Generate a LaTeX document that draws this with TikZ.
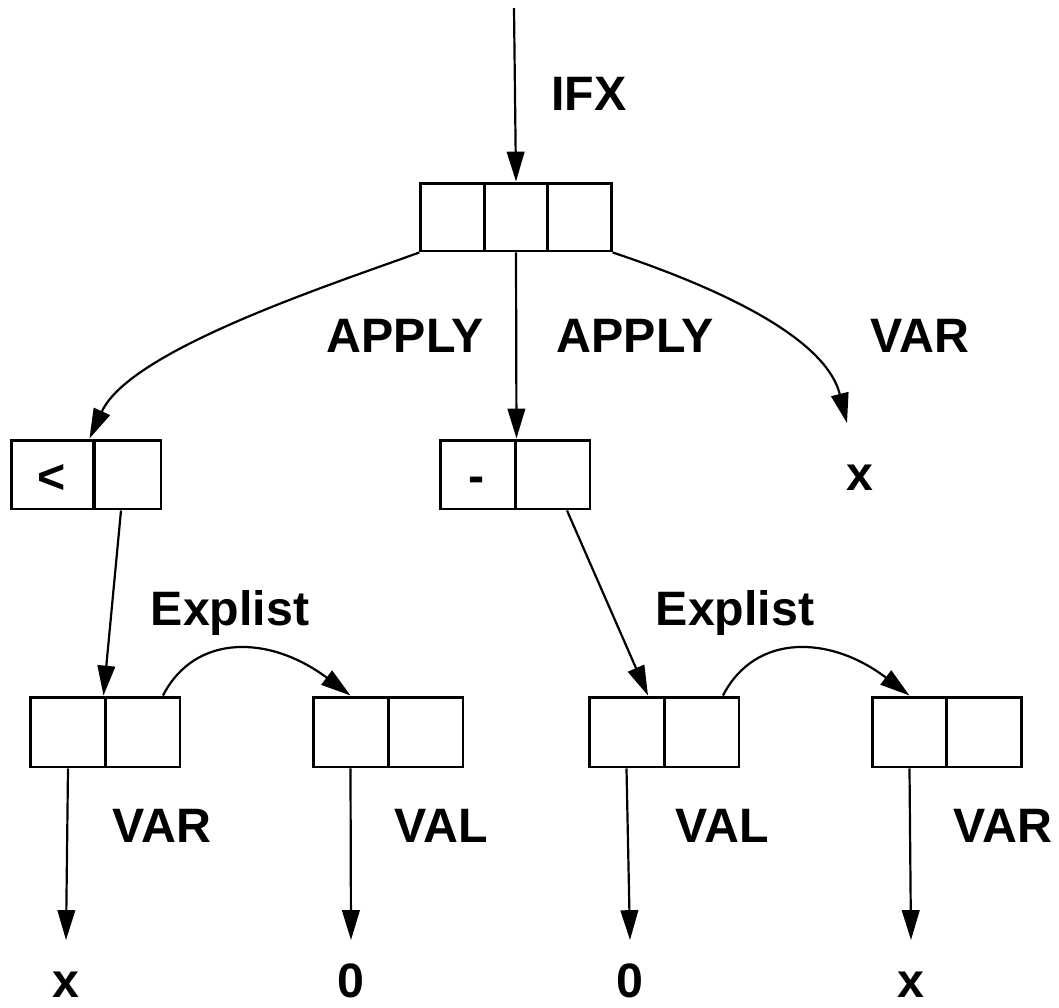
\documentclass[tikz,border=0pt]{standalone}
\usepackage{fontspec}
\setmainfont{Liberation Sans}
\usetikzlibrary{arrows.meta,calc}
\newcommand\dgfont{\fontsize{27.5}{30}\selectfont\bfseries}
\begin{document}
\begin{tikzpicture}[x=0.02cm,y=-0.02cm,
  cell/.style={draw,line width=1.7pt,rectangle,inner sep=0pt,
    minimum width=1.5cm,minimum height=1.4cm,font=\dgfont},
  lbl/.style={inner sep=0pt,anchor=base,font=\dgfont},
  arr/.style={line width=1.25pt,-{Triangle[length=17pt,width=10pt]}}]
\useasboundingbox (0,0) rectangle (1059,1008);

% IFX cell with three fields
\node[cell,minimum width=1.27cm,minimum height=1.36cm] (t1) at (452.5,217) {};
\node[cell,minimum width=1.27cm,minimum height=1.36cm] (t2) at (516,217) {};
\node[cell,minimum width=1.27cm,minimum height=1.36cm] (t3) at (579.5,217) {};

% APPLY cells
\node[cell,minimum width=1.66cm,minimum height=1.38cm] (l1) at (52.5,474.5) {};
\node[cell,minimum width=1.34cm,minimum height=1.38cm] (l2) at (127.5,474.5) {};
\node[cell,minimum height=1.38cm] (m1) at (477.5,474.5) {};
\node[cell,minimum height=1.38cm] (m2) at (552.5,474.5) {};
\node[lbl] (lt) at (52,493) {<};
\node[lbl] (mn) at (477,492) {-};

% Explist cells
\node[cell] (b11) at (68,732) {};
\node[cell] (b12) at (142.5,732) {};
\node[cell] (b21) at (350.5,732) {};
\node[cell] (b22) at (425.5,732) {};
\node[cell] (b31) at (626.5,732) {};
\node[cell] (b32) at (701.5,732) {};
\node[cell] (b41) at (909.5,732) {};
\node[cell] (b42) at (984,732) {};

% labels
\node[lbl] (lifx) at (589,110) {IFX};
\node[lbl] (lap1) at (405,352) {APPLY};
\node[lbl] (lap2) at (635,352) {APPLY};
\node[lbl] (lvar) at (920,352) {VAR};
\node[lbl] (xr) at (860,490) {x};
\node[lbl] (lex1) at (230,625) {Explist};
\node[lbl] (lex2) at (735,625) {Explist};
\node[lbl] (lv1) at (162,842) {VAR};
\node[lbl] (lv2) at (441,842) {VAL};
\node[lbl] (lv3) at (722,842) {VAL};
\node[lbl] (lv4) at (1003,842) {VAR};

% leaves
\node[lbl] (x1) at (66,997) {x};
\node[lbl] (z1) at (351,997) {0};
\node[lbl] (z2) at (630,997) {0};
\node[lbl] (x2) at (911,997) {x};

\coordinate (root) at (514,8);
\coordinate (xtip) at (847,423);

% connectors
\draw[arr] (root) -- (t2.north);
\draw[arr] (t1.south west) .. controls (330,285) and (130,350) .. ([xshift=-0.12cm]l1.north east);
\draw[arr] (t2.south) -- (m1.north east);
\draw[arr] (t3.south east) .. controls (710,285) and (825,335) .. (xtip);

\draw[arr] ([xshift=-0.13cm]l2.south) -- (b12.north west);
\draw[arr] ([xshift=0.29cm]m2.south) -- ([xshift=0.43cm]b31.north);

\draw[arr] ([xshift=0.41cm]b12.north) .. controls (195,633) and (270,635) .. (b21.north);
\draw[arr] ([xshift=0.43cm]b32.north) .. controls (755,633) and (830,635) .. (b41.north);

\draw[arr] (b11.south) -- ([yshift=1.14cm]x1.base);
\draw[arr] (b21.south) -- ([yshift=1.14cm]z1.base);
\draw[arr] (b31.south) -- ([yshift=1.14cm]z2.base);
\draw[arr] (b41.south) -- ([yshift=1.14cm]x2.base);
\end{tikzpicture}
\end{document}
